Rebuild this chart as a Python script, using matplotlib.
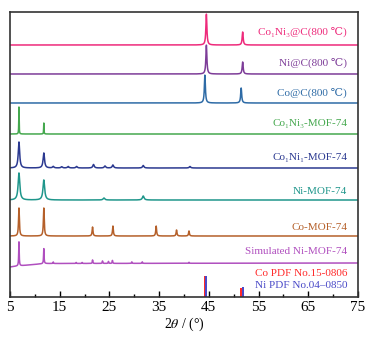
import numpy as np
import matplotlib
matplotlib.use('Agg')
import matplotlib.pyplot as plt

plt.rcParams['font.family'] = ['Liberation Serif', 'DejaVu Serif']
plt.rcParams['mathtext.fontset'] = 'stix'

# 每條曲線的峰位 (2θ) 與峰高 (相對強度)
co1ni3_c_pos = [44.5, 51.8]
co1ni3_c_int = [31, 13]
ni_c_pos = [44.5, 51.8]
ni_c_int = [29, 12]
co_c_pos = [44.2, 51.5]
co_c_int = [28, 15]
co1ni3_mof_pos = [6.8, 11.8]
co1ni3_mof_int = [27, 11]
co1ni1_mof_pos = [6.8, 11.8, 13.7, 15.4, 16.7, 18.4, 21.8, 24.1, 25.7, 31.8, 41.2]
co1ni1_mof_int = [26, 15, 1.5, 1.2, 1.5, 1.5, 3.5, 2, 3, 2.5, 1.5]
ni_mof_pos = [6.8, 11.8, 23.9, 31.8]
ni_mof_int = [27, 20, 2, 4]
co_mof_pos = [6.8, 11.8, 21.6, 25.7, 34.4, 38.5, 41.0]
co_mof_int = [28, 28, 9, 10, 10, 6, 5]
sim_pos = [6.8, 11.8, 13.7, 18.3, 19.5, 21.6, 23.6, 24.8, 25.6, 29.5, 31.6, 41.0]
sim_int = [24, 15, 1.5, 1, 1, 3.5, 2.5, 2, 3, 1.5, 1.5, 1]
sim_bg_x = [5, 6.5, 12, 75]
sim_bg_y = [0, 1, 3.5, 4]

# PDF 標準卡
co_pdf_pos = [44.2, 51.5]
co_pdf_int = [21, 9]
ni_pdf_pos = [44.5, 51.8]
ni_pdf_int = [21, 10]

xticks = [5, 15, 25, 35, 45, 55, 65, 75]
xminor = [10, 20, 30, 40, 50, 60, 70]

x = np.linspace(5, 75, 3500)


def pattern(pos, inten, w):
    y = np.zeros_like(x)
    for p, h in zip(pos, inten):
        y += h / (1 + ((x - p) / w) ** 2)
    return y


series = [
    # (pos, int, width, baseline, color, label, label_y)
    (co1ni3_c_pos, co1ni3_c_int, 0.12, 252, '#EE2A7B', 'Co₁Ni₃@C(800 ℃)', 265),
    (ni_c_pos, ni_c_int, 0.12, 223, '#7D3C98', 'Ni@C(800 ℃)', 234),
    (co_c_pos, co_c_int, 0.12, 194, '#2E6BA6', 'Co@C(800 ℃)', 204),
    (co1ni3_mof_pos, co1ni3_mof_int, 0.04, 163, '#45A84E', 'Co₁Ni₃-MOF-74', 173),
    (co1ni1_mof_pos, co1ni1_mof_int, 0.17, 129, '#2B3990', 'Co₁Ni₁-MOF-74', 140),
    (ni_mof_pos, ni_mof_int, 0.2, 97, '#1F968B', 'Ni-MOF-74', 106),
    (co_mof_pos, co_mof_int, 0.1, 61, '#B5602A', 'Co-MOF-74', 70),
]

fig = plt.figure(figsize=(3.73, 3.38), dpi=100)
ax = fig.add_axes([10 / 373, 1 - 297 / 338, 348 / 373, 285 / 338])

for pos, inten, w, base, color, label, ly in series:
    ax.plot(x, base + pattern(pos, inten, w), color=color, lw=1.1)
    ax.text(72.8, ly, label, color=color, ha='right', va='center', fontsize=8)

# Simulated
sim_y = 30 + np.interp(x, sim_bg_x, sim_bg_y) + pattern(sim_pos, sim_int, 0.06)
ax.plot(x, sim_y, color='#B04FBF', lw=1.1)
ax.text(72.8, 45, 'Simulated Ni-MOF-74', color='#B04FBF', ha='right', va='center', fontsize=8)

ax.bar(co_pdf_pos, co_pdf_int, width=0.4, color='#FF2A2A', align='center')
ax.bar(ni_pdf_pos, ni_pdf_int, width=0.4, color='#4A4AC8', align='center')
ax.text(72.8, 24, 'Co PDF No.15-0806', color='#FF2A2A', ha='right', va='center', fontsize=8)
ax.text(72.8, 11, 'Ni PDF No.04–0850', color='#4A4AC8', ha='right', va='center', fontsize=8)

ax.set_xlim(5, 75)
ax.set_ylim(0, 285)
ax.set_yticks([])
ax.set_xticks(xticks)
ax.set_xticks(xminor, minor=True)
ax.tick_params(axis='x', which='major', direction='in', length=4, width=1, labelsize=11, pad=3)
ax.tick_params(axis='x', which='minor', direction='in', length=2, width=1)
for s in ax.spines.values():
    s.set_color('#333333')
    s.set_linewidth(1.2)
ax.set_xlabel(r'2$\it{\theta}$ / (°)', fontsize=10, labelpad=1)

fig.savefig('out.png', dpi=100)
